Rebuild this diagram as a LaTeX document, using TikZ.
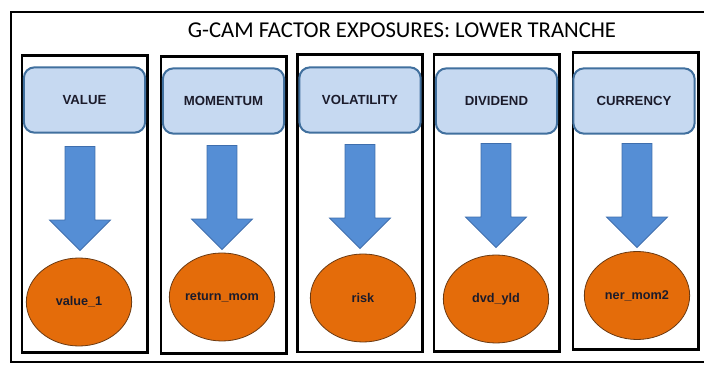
\documentclass[tikz,border=0pt]{standalone}
\usepackage{fontspec}
\setmainfont{Carlito}
\newfontfamily\labelfont{Liberation Sans}
\usepackage{xcolor}
\usepackage{tikz}
\usetikzlibrary{shapes.geometric, shapes.arrows, positioning}
\definecolor{boxblue}{HTML}{C6D9F1}
\definecolor{boxedge}{HTML}{41709E}
\definecolor{arrowblue}{HTML}{558ED5}
\definecolor{arrowedge}{HTML}{3E6EAD}
\definecolor{factororange}{HTML}{E46C0A}
\definecolor{ovaledge}{HTML}{6B3A12}
\definecolor{labeltext}{HTML}{1B1B2B}
\tikzset{
  factorcol/.style={
    draw, line width=2pt, minimum width=94pt, minimum height=223pt,
    inner sep=0pt
  },
  factorbox/.style={
    draw=boxedge, fill=boxblue, line width=1.5pt, rounded corners=8pt,
    minimum width=91pt, minimum height=49pt, inner sep=0pt,
    font=\labelfont\bfseries\fontsize{9.9}{11}\selectfont, text=labeltext
  },
  factorarrow/.style={
    single arrow, draw=arrowedge, fill=arrowblue, line width=0.6pt,
    rotate=-90, inner xsep=0pt, inner ysep=10.9pt, minimum height=78pt,
    single arrow head extend=11.6pt, single arrow tip angle=90
  },
  exposure/.style={
    ellipse, draw=ovaledge, fill=factororange, line width=0.6pt,
    minimum width=79pt, minimum height=66pt, inner sep=0pt,
    font=\labelfont\bfseries\fontsize{9.5}{11}\selectfont, text=labeltext
  },
}

\begin{document}
\begin{tikzpicture}[x=0.75pt, y=-0.75pt]
  \useasboundingbox (0,0) rectangle (704,366);

  % Outer frame and title
  \draw[line width=2.2pt] (11,12) rectangle (712,362);
  \node[font=\fontsize{17}{20}\selectfont] (title) at (402,30)
    {G-CAM FACTOR EXPOSURES: LOWER TRANCHE};

  % ---- Columns ----
  \node[factorcol] (col1) at (84.5,204) {};
  \node[factorcol] (col2) at (223.5,205) {};
  \node[factorcol] (col3) at (360,203.5) {};
  \node[factorcol] (col4) at (496.5,203) {};
  \node[factorcol] (col5) at (635.5,201) {};

  % ---- Factor boxes ----
  \node[factorbox] (value) at (84.5,100) {VALUE};
  \node[factorbox] (momentum) at (223.5,101) {MOMENTUM};
  \node[factorbox] (volatility) at (360,100) {VOLATILITY};
  \node[factorbox] (dividend) at (496.5,101) {DIVIDEND};
  \node[factorbox] (currency) at (634,101) {CURRENCY};

  % ---- Arrows ----
  \node[factorarrow] (arr1) at (80,191) {};
  \node[factorarrow] (arr2) at (222,190) {};
  \node[factorarrow] (arr3) at (360,189) {};
  \node[factorarrow] (arr4) at (496,188) {};
  \node[factorarrow] (arr5) at (637,188) {};

  % ---- Exposures ----
  \node[exposure] (value1) at (79,302) {value\_1};
  \node[exposure] (retmom) at (222,297) {return\_mom};
  \node[exposure] (risk) at (363,298) {risk};
  \node[exposure] (dvdyld) at (496,299) {dvd\_yld};
  \node[exposure] (nermom) at (637,295.5) {ner\_mom2};
\end{tikzpicture}
\end{document}
